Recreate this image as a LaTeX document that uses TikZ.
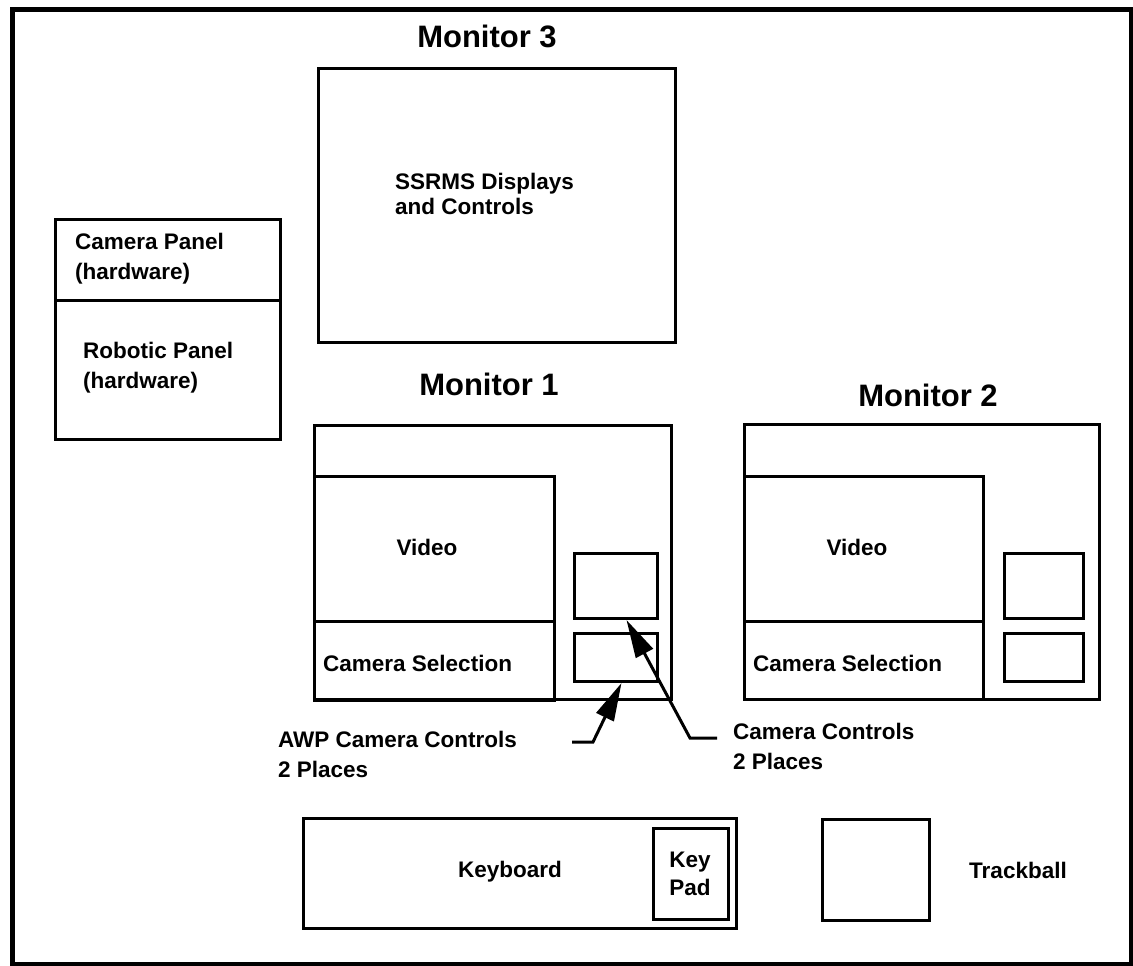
\documentclass[tikz,border=0pt]{standalone}
\usepackage{fontspec}
\setmainfont{Liberation Sans}
\usetikzlibrary{arrows.meta}
\newcommand\bodyf{\fontsize{22.5}{30}\selectfont\bfseries}
\newcommand\titlef{\fontsize{31}{34}\selectfont\bfseries}
\begin{document}
\begin{tikzpicture}[x=1pt,y=-1pt,
  box/.style={draw, line width=3pt, inner sep=0pt, anchor=north west},
  lbl/.style={font=\bodyf, anchor=west, inner sep=0pt, align=left},
  ctr/.style={font=\bodyf, inner sep=0pt, align=center},
  ttl/.style={font=\titlef, anchor=base, inner sep=0pt},
  arr/.style={line width=3pt, -{Triangle[length=38pt,width=19pt]}}]
\useasboundingbox (0,0) rectangle (1133,966);
\node[draw, line width=5pt, inner sep=0pt, anchor=north west, minimum width=1119pt, minimum height=954pt] (frame) at (9.5,7.5) {};
% Monitor 3
\node[ttl] (t3) at (487,48) {Monitor 3};
\node[box, minimum width=357pt, minimum height=274pt] (m3) at (317,67) {};
\node[lbl, font=\fontsize{22.5}{25}\selectfont\bfseries] (m3t) at (395,194) {SSRMS Displays\\and Controls};
% Panels
\node[box, minimum width=225pt, minimum height=81pt] (cp) at (54,218) {};
\node[box, minimum width=225pt, minimum height=139pt] (rp) at (54,299) {};
\node[lbl] (cpt) at (75,259) {Camera Panel\\(hardware)};
\node[lbl] (rpt) at (83,368) {Robotic Panel\\(hardware)};
% Monitor 1
\node[ttl] (t1) at (489,395) {Monitor 1};
\node[box, minimum width=357pt, minimum height=274pt] (m1) at (313,424) {};
\node[box, minimum width=240pt, minimum height=145pt] (m1v) at (313,475) {};
\node[box, minimum width=240pt, minimum height=79pt] (m1c) at (313,620) {};
\node[box, minimum width=83pt, minimum height=65pt] (m1a) at (573,552) {};
\node[box, minimum width=83pt, minimum height=48pt] (m1b) at (573,632) {};
\node[ctr] (m1vt) at (427,547) {Video};
\node[lbl] (m1ct) at (323,663) {Camera Selection};
% Monitor 2
\node[ttl] (t2) at (928,406) {Monitor 2};
\node[box, minimum width=355pt, minimum height=275pt] (m2) at (743,423) {};
\node[box, minimum width=239pt, minimum height=145pt] (m2v) at (743,475) {};
\node[box, minimum width=239pt, minimum height=78pt] (m2c) at (743,620) {};
\node[box, minimum width=79pt, minimum height=65pt] (m2a) at (1003,552) {};
\node[box, minimum width=79pt, minimum height=48pt] (m2b) at (1003,632) {};
\node[ctr] (m2vt) at (857,547) {Video};
\node[lbl] (m2ct) at (753,663) {Camera Selection};
% Callouts
\node[lbl] (awp) at (278,754) {AWP Camera Controls\\2 Places};
\node[lbl] (cc) at (733,746) {Camera Controls\\2 Places};
\coordinate (awps) at (572,742);
\coordinate (ccs) at (717,738);
\draw[arr] (awps) -- ++(21,0) -- ([xshift=5.5pt]m1b.south);
\draw[arr] (ccs) -- ++(-27,0) -- ([xshift=10.5pt]m1a.south);
% Keyboard and trackball
\node[box, minimum width=433pt, minimum height=110pt] (kb) at (302,817) {};
\node[box, minimum width=75pt, minimum height=91pt] (kp) at (652,827) {};
\node[ctr] (kbt) at (510,872) {Keyboard};
\node[ctr, font=\fontsize{22.5}{28}\selectfont\bfseries] (kpt) at (690,874) {Key\\Pad};
\node[box, minimum width=107pt, minimum height=101pt] (tb) at (821,818) {};
\node[ctr] (tbt) at (1018,870) {Trackball};
\end{tikzpicture}
\end{document}
